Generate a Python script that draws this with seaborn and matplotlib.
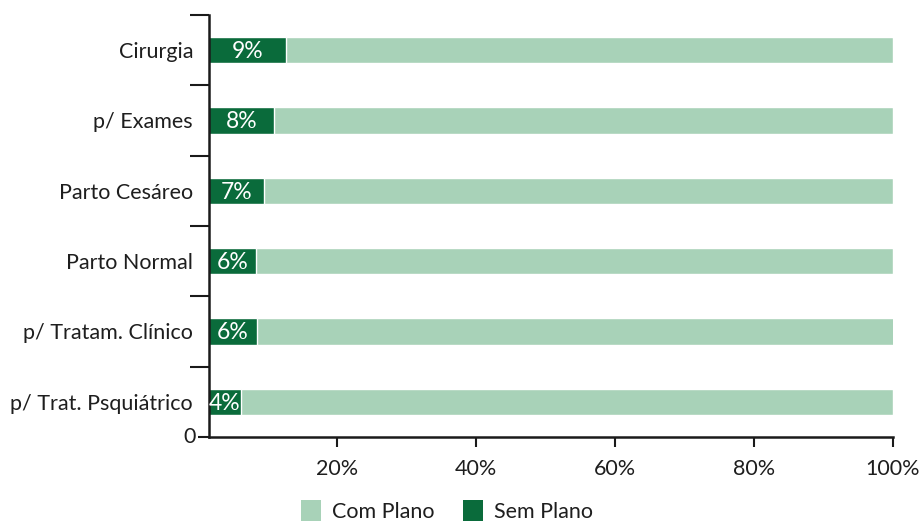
import matplotlib
matplotlib.use("Agg")
import matplotlib.pyplot as plt
import seaborn as sns
import pandas as pd
from matplotlib.patches import Patch

categories = ["Cirurgia", "p/ Exames", "Parto Cesáreo", "Parto Normal",
              "p/ Tratam. Clínico", "p/ Trat. Psquiátrico"]
sem_plano = [12.7, 10.9, 9.5, 8.3, 8.5, 6.2]
com_plano = [87.3, 89.1, 90.5, 91.7, 91.8, 93.8]
sem_labels = ["9%", "8%", "7%", "6%", "6%", "4%"]
xticks = [20, 40, 60, 80, 100]
xtick_labels = ["20%", "40%", "60%", "80%", "100%"]

light = "#A8D2B8"
dark = "#0A6B3B"
text_color = "#1e1e1e"
fs = 15.5

sns.set_theme(style="white")
plt.rcParams["font.family"] = ["Lato", "DejaVu Sans"]

df = pd.DataFrame({"cat": categories, "sem": sem_plano, "com": com_plano})
df["total"] = df["sem"] + df["com"]

fig = plt.figure(figsize=(9.19, 5.25), dpi=100)
ax = fig.add_axes([209/919, 1-437/525, (893-209)/919, (437-15)/525])

sns.barplot(data=df, x="total", y="cat", color=light, width=0.37,
            saturation=1, ax=ax, orient="h")
sns.barplot(data=df, x="sem", y="cat", color=dark, width=0.37,
            saturation=1, ax=ax, orient="h")

x0 = 1.6
ax.set_xlim(x0, 100)
ax.set_ylim(5.5, -0.5)

for i, (v, lab) in enumerate(zip(sem_plano, sem_labels)):
    ax.text((x0 + v) / 2, i + 0.02, lab, color="white", ha="center",
            va="center", fontsize=16.5)

for s in ["top", "right"]:
    ax.spines[s].set_visible(False)
for s in ["left", "bottom"]:
    ax.spines[s].set_color("#1a1a1a")
    ax.spines[s].set_linewidth(1.8)

ax.set_xticks(xticks)
ax.set_xticklabels(xtick_labels, fontsize=fs, color=text_color)
ax.tick_params(axis="x", direction="out", length=7, width=1.5,
               color="#1a1a1a", pad=9, bottom=True)

ax.set_yticks([-0.5, 0.5, 1.5, 2.5, 3.5, 4.5])
ax.set_yticklabels([""] * 6)
ax.tick_params(axis="y", which="major", direction="out", length=14,
               width=1.5, color="#1a1a1a", left=True)
ax.set_yticks(range(len(categories)), minor=True)
ax.set_yticklabels(categories, minor=True, fontsize=fs, color=text_color)
ax.tick_params(axis="y", which="minor", length=0, pad=11.5)

ax.set_xlabel("")
ax.set_ylabel("")

ax.plot([-0.016, 0], [0, 0], transform=ax.transAxes, color="#1a1a1a",
        lw=1.5, clip_on=False, solid_capstyle="butt")
ax.text(-0.02, 0, "0", transform=ax.transAxes, ha="right", va="center",
        fontsize=fs, color=text_color)

handles = [Patch(facecolor=light, edgecolor="none", label="Com Plano"),
           Patch(facecolor=dark, edgecolor="none", label="Sem Plano")]
fig.legend(handles=handles, loc="center", bbox_to_anchor=(447/919, 1-511/525),
           ncol=2, frameon=False, fontsize=fs, handlelength=0.95,
           handleheight=1.1, handletextpad=0.5, columnspacing=1.3,
           labelcolor=text_color)

fig.savefig("out.png", dpi=100)
